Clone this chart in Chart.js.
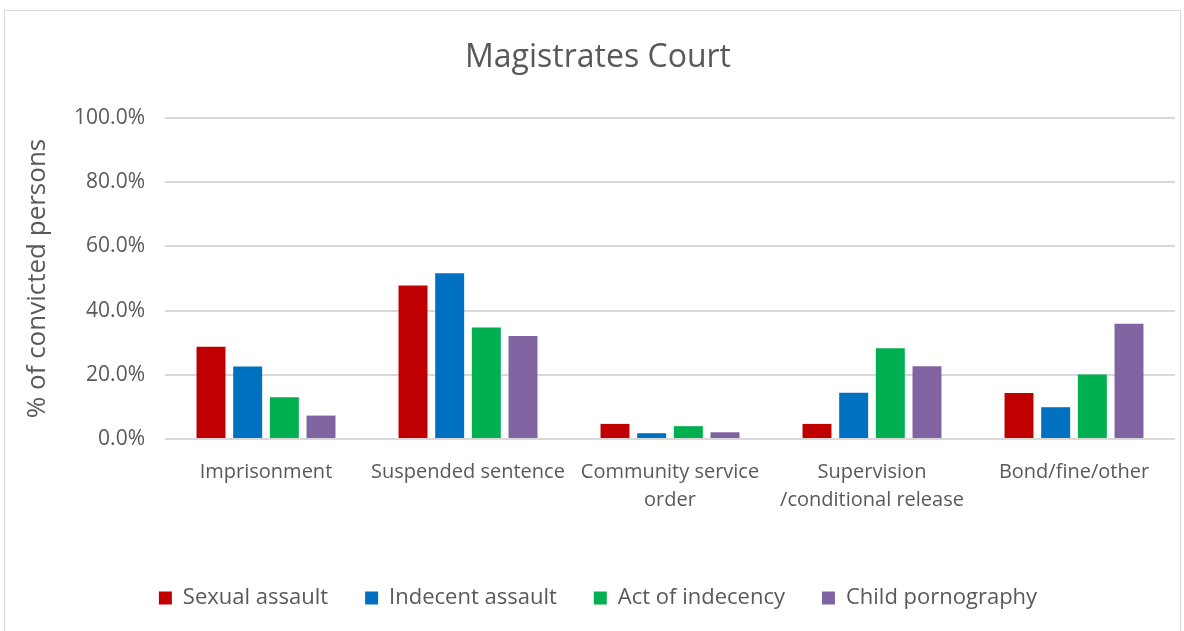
<!DOCTYPE html>
<html>
<head>
<meta charset="utf-8">
<script src="https://cdn.jsdelivr.net/npm/chart.js@4.4.1/dist/chart.umd.min.js"></script>
<style>
html,body{margin:0;padding:0;background:#fff;}
#frame{position:absolute;left:4px;top:10px;width:1177px;height:640px;border:1px solid #d9d9d9;box-sizing:border-box;}
#wrap{position:absolute;left:0;top:0;width:1184px;height:631px;}
</style>
</head>
<body>
<div id="frame"></div>
<div id="wrap"><canvas id="c" width="1184" height="631"></canvas></div>
<script>
const categories = ["Imprisonment", "Suspended sentence", ["Community service", "order"], ["Supervision", "/conditional release"], "Bond/fine/other"];
const seriesNames = ["Sexual assault", "Indecent assault", "Act of indecency", "Child pornography"];
const sexualAssault = [28.7, 47.8, 4.7, 4.7, 14.3];
const indecentAssault = [22.6, 51.6, 1.8, 14.4, 9.9];
const actOfIndecency = [13.0, 34.7, 4.0, 28.3, 20.1];
const childPornography = [7.3, 32.1, 2.1, 22.7, 35.9];
const yTicks = [0, 20, 40, 60, 80, 100];
const colors = ["#c00000", "#0070c0", "#00b050", "#8064a2"];

const FONT = "'Open Sans', 'Liberation Sans', sans-serif";
const TXT = "#595959";

new Chart(document.getElementById('c'), {
  type: 'bar',
  data: {
    labels: categories,
    datasets: [sexualAssault, indecentAssault, actOfIndecency, childPornography].map((d, i) => ({
      label: seriesNames[i],
      data: d,
      backgroundColor: colors[i],
      borderWidth: 0,
      categoryPercentage: 0.726,
      barPercentage: 0.79
    }))
  },
  options: {
    responsive: false,
    animation: false,
    layout: { padding: { top: 0, left: 21, right: 9, bottom: 12 } },
    plugins: {
      title: {
        display: true,
        text: 'Magistrates Court',
        color: TXT,
        font: { family: FONT, size: 32, weight: 'normal' },
        padding: { top: 39, bottom: 40.6 }
      },
      legend: {
        position: 'bottom',
        labels: {
          color: TXT,
          font: { family: FONT, size: 22 },
          boxWidth: 13,
          boxHeight: 13,
          padding: 37
        }
      },
      tooltip: { enabled: false }
    },
    scales: {
      x: {
        grid: { display: false },
        border: { display: false },
        ticks: { color: TXT, font: { family: FONT, size: 20, lineHeight: 1.4 }, maxRotation: 0, autoSkip: false, padding: 11 },
        afterFit: (s) => { s.height = 111; }
      },
      y: {
        min: 0, max: 100,
        afterBuildTicks: (s) => { s.ticks = yTicks.map(v => ({ value: v })); },
        afterFit: (s) => { s.width = 144; },
        ticks: { color: TXT, font: { family: FONT, size: 21 }, padding: 20, callback: (v) => v.toFixed(1) + '%' },
        grid: { color: '#d9d9d9', lineWidth: 2, drawTicks: false },
        border: { display: false },
        title: { display: true, text: '% of convicted persons', color: TXT, font: { family: FONT, size: 26 }, padding: { top: 1, bottom: 0 } }
      }
    }
  }
});
</script>
</body>
</html>
